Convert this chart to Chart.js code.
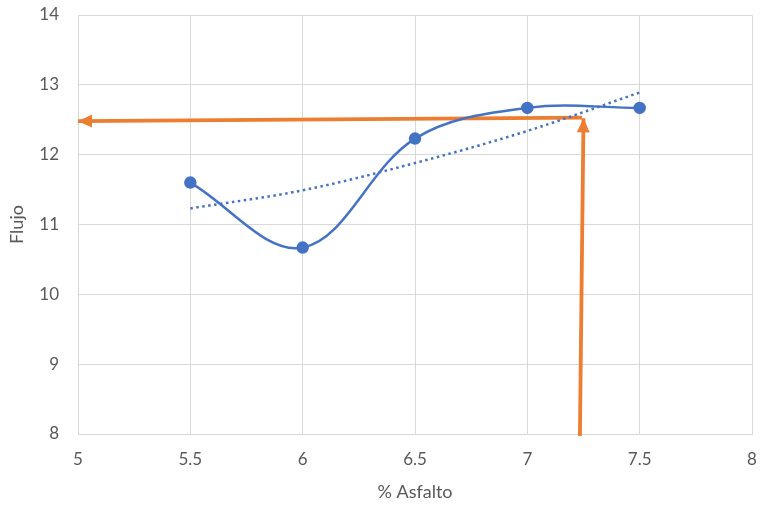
<!DOCTYPE html>
<html>
<head>
<meta charset="utf-8">
<script src="https://cdn.jsdelivr.net/npm/chart.js@4/dist/chart.umd.min.js"></script>
<style>
html,body{margin:0;padding:0;background:#fff;}
#wrap{width:761px;height:508px;}
</style>
</head>
<body>
<div id="wrap"><canvas id="c" width="761" height="508"></canvas></div>
<script>
// Data
const asfalto = [5.5, 6, 6.5, 7, 7.5];
const flujo = [11.6, 10.67, 12.23, 12.67, 12.67];
const trendX = [5.5, 6, 6.5, 7, 7.5];
const trendY = [11.23, 11.49, 11.88, 12.34, 12.89];
const arrowHX = [7.243, 5.0];
const arrowHY = [12.53, 12.48];
const arrowVX = [7.234, 7.25];
const arrowVY = [7.97, 12.52];
const xTicks = [5, 5.5, 6, 6.5, 7, 7.5, 8];
const yTicks = [8, 9, 10, 11, 12, 13, 14];

const pts = (xs, ys) => xs.map((x, i) => ({x: x, y: ys[i]}));

const BLUE = '#4472C4';
const ORANGE = '#ED7D31';
const GRID = '#D9D9D9';
const TXT = '#595959';

const arrowPlugin = {
  id: 'arrowHeads',
  afterDatasetsDraw(chart) {
    const ctx = chart.ctx;
    chart.data.datasets.forEach((ds, i) => {
      if (!ds.arrow) return;
      const meta = chart.getDatasetMeta(i);
      const n = meta.data.length;
      const a = meta.data[n - 2], b = meta.data[n - 1];
      const ang = Math.atan2(b.y - a.y, b.x - a.x);
      const L = 14, W = 6.5;
      ctx.save();
      ctx.translate(b.x, b.y);
      ctx.rotate(ang);
      ctx.beginPath();
      ctx.moveTo(0, 0);
      ctx.lineTo(-L, -W);
      ctx.lineTo(-L, W);
      ctx.closePath();
      ctx.fillStyle = ds.borderColor;
      ctx.fill();
      ctx.restore();
    });
  }
};

new Chart(document.getElementById('c'), {
  type: 'scatter',
  data: {
    datasets: [
      {
        data: pts(trendX, trendY),
        showLine: true,
        borderColor: BLUE,
        borderWidth: 2.5,
        borderDash: [2.5, 3.5],
        borderCapStyle: 'butt',
        pointRadius: 0,
        tension: 0.4,
        cubicInterpolationMode: 'monotone'
      },
      {
        data: pts(asfalto, flujo),
        showLine: true,
        borderColor: BLUE,
        backgroundColor: BLUE,
        borderWidth: 2.5,
        pointRadius: 5,
        pointBackgroundColor: BLUE,
        pointBorderColor: BLUE,
        tension: 0.36
      },
      {
        data: pts(arrowHX, arrowHY),
        showLine: true,
        arrow: true,
        borderColor: ORANGE,
        borderWidth: 3.8,
        pointRadius: 0
      },
      {
        data: pts(arrowVX, arrowVY),
        showLine: true,
        arrow: true,
        borderColor: ORANGE,
        borderWidth: 3.8,
        pointRadius: 0
      }
    ]
  },
  options: {
    responsive: false,
    animation: false,
    clip: false,
    layout: {padding: {top: 15, right: 9, bottom: 0, left: 0}},
    plugins: {legend: {display: false}, tooltip: {enabled: false}},
    scales: {
      x: {
        type: 'linear',
        min: 5, max: 8,
        afterBuildTicks: s => { s.ticks = xTicks.map(v => ({value: v})); },
        afterFit: s => { s.height = 74; s.paddingLeft = 0; s.paddingRight = 0; },
        grid: {color: GRID, lineWidth: 1, drawTicks: false},
        border: {color: GRID, width: 1},
        ticks: {color: TXT, font: {family: 'Lato', size: 17}, padding: 15, maxRotation: 0,
                callback: v => String(v)},
        title: {display: true, text: '% Asfalto', color: TXT, font: {family: 'Lato', size: 18}, padding: {top: 0, bottom: 5}}
      },
      y: {
        type: 'linear',
        min: 8, max: 14,
        afterBuildTicks: s => { s.ticks = yTicks.map(v => ({value: v})); },
        afterFit: s => { s.width = 78; s.paddingTop = 0; s.paddingBottom = 0; },
        grid: {color: GRID, lineWidth: 1, drawTicks: false},
        border: {color: GRID, width: 1},
        ticks: {color: TXT, font: {family: 'Lato', size: 17}, padding: 19, callback: v => String(v)},
        title: {display: true, text: 'Flujo', color: TXT, font: {family: 'Lato', size: 18}, padding: {top: 6, bottom: 0}}
      }
    }
  },
  plugins: [arrowPlugin]
});
</script>
</body>
</html>
